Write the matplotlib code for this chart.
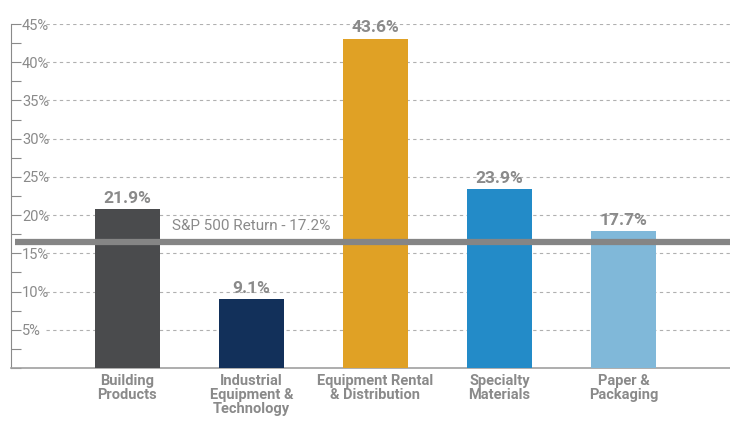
import numpy as np
import matplotlib.pyplot as plt
from matplotlib.ticker import MultipleLocator

# sector returns: bar heights as drawn, and the printed labels
categories = ['Building\nProducts', 'Industrial\nEquipment &\nTechnology', 'Equipment Rental\n& Distribution',
              'Specialty\nMaterials', 'Paper &\nPackaging']
returns = [20.8, 9.0, 43.1, 23.4, 17.9]
value_labels = ['21.9%', '9.1%', '43.6%', '23.9%', '17.7%']
bar_colors = ['#4a4b4d', '#12305a', '#e0a125', '#238bc8', '#80b8d9']
sp500 = 16.5
sp500_label = 'S&P 500 Return - 17.2%'
yticks = [5, 10, 15, 20, 25, 30, 35, 40, 45]

text_gray = '#8a8a8a'
plt.rcParams['font.family'] = ['Roboto', 'DejaVu Sans']

fig = plt.figure(figsize=(7.3, 4.22), dpi=100)
ax = fig.add_axes([0.015, 0.128, 0.985, 0.815])

x = np.arange(len(categories))
ax.bar(x, returns, width=0.52, color=bar_colors, zorder=3)

# dashed gridlines, starting right of the tick labels
ax.hlines(yticks, -0.66, 4.95, colors='#b0b0b0', linestyles=(0, (3, 3)), linewidth=0.8, zorder=1)

# S&P line
ax.plot([-0.91, 4.95], [sp500, sp500], color='#858585', linewidth=4.5, zorder=4, solid_capstyle='butt')
ax.text(1.0, sp500 + 1.1, sp500_label, ha='center', va='bottom', color=text_gray, fontsize=11, zorder=5)

for xi, v, lab in zip(x, returns, value_labels):
    ax.text(xi, v + 0.45, lab, ha='center', va='bottom', color=text_gray, fontsize=12.5, fontweight='bold')

ax.set_xlim(-0.94, 4.86)
ax.set_ylim(0, 45)

ax.set_yticks(yticks)
ax.set_yticklabels([str(t) + '%' for t in yticks])
ax.yaxis.set_minor_locator(MultipleLocator(2.5))
ax.tick_params(axis='y', which='both', direction='in', length=7, color='#8a8a8a', width=0.8)
ax.tick_params(axis='y', which='major', pad=-8, labelsize=10.5, labelcolor=text_gray)
for lbl in ax.get_yticklabels():
    lbl.set_horizontalalignment('left')

ax.set_xticks(x)
ax.set_xticklabels(categories, fontsize=10.5, fontweight='bold', color=text_gray, linespacing=1.0)
ax.tick_params(axis='x', length=0, pad=4)

for s in ['top', 'right']:
    ax.spines[s].set_visible(False)
ax.spines['left'].set_color('#8a8a8a')
ax.spines['bottom'].set_color('#a0a0a0')
ax.spines['bottom'].set_linewidth(1.2)

plt.savefig('out.png', dpi=100)
